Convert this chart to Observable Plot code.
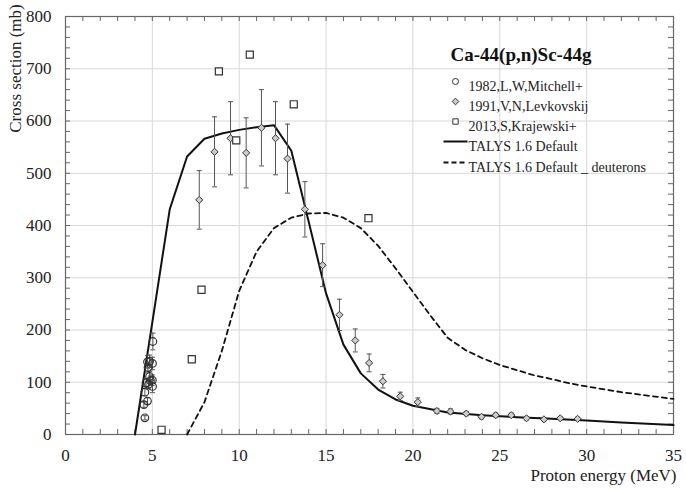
<!DOCTYPE html>
<html>
<head>
<meta charset="utf-8">
<script src="https://cdn.jsdelivr.net/npm/d3@7"></script>
<script src="https://cdn.jsdelivr.net/npm/@observablehq/plot@0.6"></script>
<style>
  html, body { margin: 0; padding: 0; background: #fff; overflow: hidden; }
  svg, svg text { font-family: "Liberation Serif", "Times New Roman", "DejaVu Serif", serif !important; }
</style>
</head>
<body>
<div id="chart"></div>
<script>
// ---- data ----
const mitchellE = [4.57, 4.51, 4.72, 4.57, 4.64, 4.75, 4.89, 5.01, 5.00, 4.84, 4.72, 5.01, 5.03, 4.84, 4.78];
const mitchellS = [32, 57, 64, 81, 99, 128, 103, 92, 104, 140, 139, 136, 178, 111, 96];
const mitchellErr = [4, 5, 6, 7, 8, 10, 9, 12, 10, 12, 12, 12, 16, 10, 9];

const levE = [7.70, 8.58, 9.50, 10.40, 11.28, 12.09, 12.78, 13.78, 14.80, 15.77, 16.68, 17.48, 18.27, 19.27, 20.28, 21.38, 22.16, 23.07, 23.95, 24.77, 25.66, 26.54, 27.54, 28.48, 29.48];
const levS = [449, 541, 567, 539, 587, 567, 528, 431, 324, 229, 180, 137, 102, 73, 62, 45, 44, 40, 34, 37, 37, 31, 29, 31, 30];
const levErr = [56, 67, 70, 67, 73, 70, 66, 53, 41, 30, 22, 17, 13, 8, 8, 5, 5, 4, 4, 4, 4, 3, 3, 3, 3];

const krajE = [5.53, 7.27, 7.83, 8.83, 9.83, 10.61, 13.14, 17.44];
const krajS = [9, 144, 277, 695, 563, 727, 632, 414];

const talysE = [4, 5, 6, 7, 8, 9, 10, 11, 12, 13, 14, 15, 16, 17, 18, 19, 20, 22, 24, 26, 28, 30, 32, 35];
const talysS = [0, 215, 431, 532, 566, 576, 583, 588, 592, 543, 407, 270, 172, 117, 86, 67, 55, 42, 37, 33, 30, 27, 23, 18];

const deutE = [7, 8, 9, 10, 11, 12, 13, 14, 15, 16, 17, 18, 19, 20, 21, 22, 23, 24, 25, 26, 27, 28, 29, 30, 32, 35];
const deutS = [0, 62, 160, 275, 350, 395, 415, 423, 424, 415, 395, 361, 318, 273, 228, 185, 162, 146, 133, 123, 113, 106, 98, 92, 81, 68];

const xMajor = [0, 5, 10, 15, 20, 25, 30, 35];
const yMajor = [0, 100, 200, 300, 400, 500, 600, 700, 800];
const xMinor = d3.range(0, 36, 1);
const yMinor = d3.range(0, 801, 20);

const title = "Ca-44(p,n)Sc-44g";
const legendLabels = ["1982,L,W,Mitchell+", "1991,V,N,Levkovskij", "2013,S,Krajewski+", "TALYS 1.6 Default", "TALYS 1.6 Default _ deuterons"];
const xLabel = "Proton energy (MeV)";
const yLabel = "Cross section (mb)";

// ---- tables ----
const mitchell = mitchellE.map((e, i) => ({e, s: mitchellS[i], err: mitchellErr[i]}));
const lev = levE.map((e, i) => ({e, s: levS[i], err: levErr[i]}));
const kraj = krajE.map((e, i) => ({e, s: krajS[i]}));
const talys = talysE.map((e, i) => ({e, s: talysS[i]}));
const deut = deutE.map((e, i) => ({e, s: deutS[i]}));
const bars = [...mitchell, ...lev];

const cap = {draw(ctx) { ctx.moveTo(-2.5, 0); ctx.lineTo(2.5, 0); }};
const lineSym = {draw(ctx) { ctx.moveTo(-12, 0); ctx.lineTo(12, 0); }};

const serif = "Liberation Serif, Times New Roman, serif";
const W = 686, H = 490, ML = 65, MR = 13, MT = 16, MB = 56;
const frameW = W - ML - MR, frameH = H - MT - MB, tickLen = 5;
const legX = 390, legT = 403, legY = [65, 85, 105, 125, 146];
const one = [0];
const legendSyms = [
  {symbol: "circle", r: 3, fill: "none", stroke: "#333", strokeWidth: 1},
  {symbol: "diamond2", r: 3, fill: "#ccc", stroke: "#333", strokeWidth: 1},
  {symbol: "square", r: 3, fill: "#fff", stroke: "#333", strokeWidth: 1},
  {symbol: lineSym, r: 1, fill: "none", stroke: "#111", strokeWidth: 2},
  {symbol: lineSym, r: 1, fill: "none", stroke: "#111", strokeWidth: 1.8, strokeDasharray: "5,3"}
];

const chart = Plot.plot({
  width: W,
  height: H,
  marginLeft: ML,
  marginRight: MR,
  marginTop: MT,
  marginBottom: MB,
  x: {domain: [0, 35]},
  y: {domain: [0, 800]},
  style: {fontFamily: serif, fontSize: "16px", color: "#222", background: "#fff"},
  marks: [
    Plot.gridX(xMajor.slice(1, -1), {stroke: "#d8d8d8", strokeOpacity: 1}),
    Plot.gridY(yMajor.slice(1, -1), {stroke: "#d8d8d8", strokeOpacity: 1}),
    Plot.axisX(xMajor, {anchor: "bottom", tickSize: 0, tickPadding: 14, fontSize: 17, fontFamily: serif, label: null}),
    Plot.axisY(yMajor, {anchor: "left", tickSize: 0, tickPadding: 14, fontSize: 17, fontFamily: serif, label: null}),
    // inward minor ticks on all four sides
    Plot.tickX(xMinor, {x: d => d, insetTop: frameH - tickLen, stroke: "#666"}),
    Plot.tickX(xMinor, {x: d => d, insetBottom: frameH - tickLen, stroke: "#666"}),
    Plot.tickY(yMinor, {y: d => d, insetRight: frameW - tickLen, stroke: "#666"}),
    Plot.tickY(yMinor, {y: d => d, insetLeft: frameW - tickLen, stroke: "#666"}),
    Plot.frame({stroke: "#666", strokeWidth: 1.2}),

    Plot.line(deut, {x: "e", y: "s", stroke: "#111", strokeWidth: 1.8, strokeDasharray: "5,4"}),
    Plot.line(talys, {x: "e", y: "s", stroke: "#111", strokeWidth: 2}),

    Plot.ruleX(bars, {x: "e", y1: d => d.s - d.err, y2: d => d.s + d.err, stroke: "#555", strokeWidth: 1}),
    Plot.dot(bars, {x: "e", y: d => d.s + d.err, symbol: cap, r: 1, fill: "none", stroke: "#555", strokeWidth: 1}),
    Plot.dot(bars, {x: "e", y: d => d.s - d.err, symbol: cap, r: 1, fill: "none", stroke: "#555", strokeWidth: 1}),

    Plot.dot(mitchell, {x: "e", y: "s", symbol: "circle", r: 3.8, fill: "none", stroke: "#333", strokeWidth: 1.2}),
    Plot.dot(lev, {x: "e", y: "s", symbol: "diamond2", r: 3.2, fill: "#ccc", stroke: "#333", strokeWidth: 1}),
    Plot.dot(kraj, {x: "e", y: "s", symbol: "square", r: 4, fill: "#fff", stroke: "#333", strokeWidth: 1.2}),

    // title & legend
    Plot.text([title], {x: null, y: null, frameAnchor: "top-left", dx: 385, dy: 31, textAnchor: "start", fontSize: 19, fontWeight: "bold", fontFamily: serif, fill: "#111"}),
    ...legendSyms.map((s, i) => Plot.dot(one, {x: null, y: null, frameAnchor: "top-left", dx: legX, dy: legY[i], ...s})),
    ...legendLabels.map((t, i) => Plot.text([t], {x: null, y: null, frameAnchor: "top-left", dx: legT, dy: legY[i], textAnchor: "start", fontSize: 14, fontFamily: serif, fill: "#222"})),

    // axis titles
    Plot.text([xLabel], {x: null, y: null, frameAnchor: "bottom-right", dx: 3, dy: 41, textAnchor: "end", lineAnchor: "middle", fontSize: 17, fontFamily: serif, fill: "#222"}),
    Plot.text([yLabel], {x: null, y: null, frameAnchor: "top-left", dx: -57, dy: 52, rotate: -90, textAnchor: "middle", fontSize: 17, fontFamily: serif, fill: "#222"})
  ]
});
document.getElementById("chart").appendChild(chart);
</script>
</body>
</html>
